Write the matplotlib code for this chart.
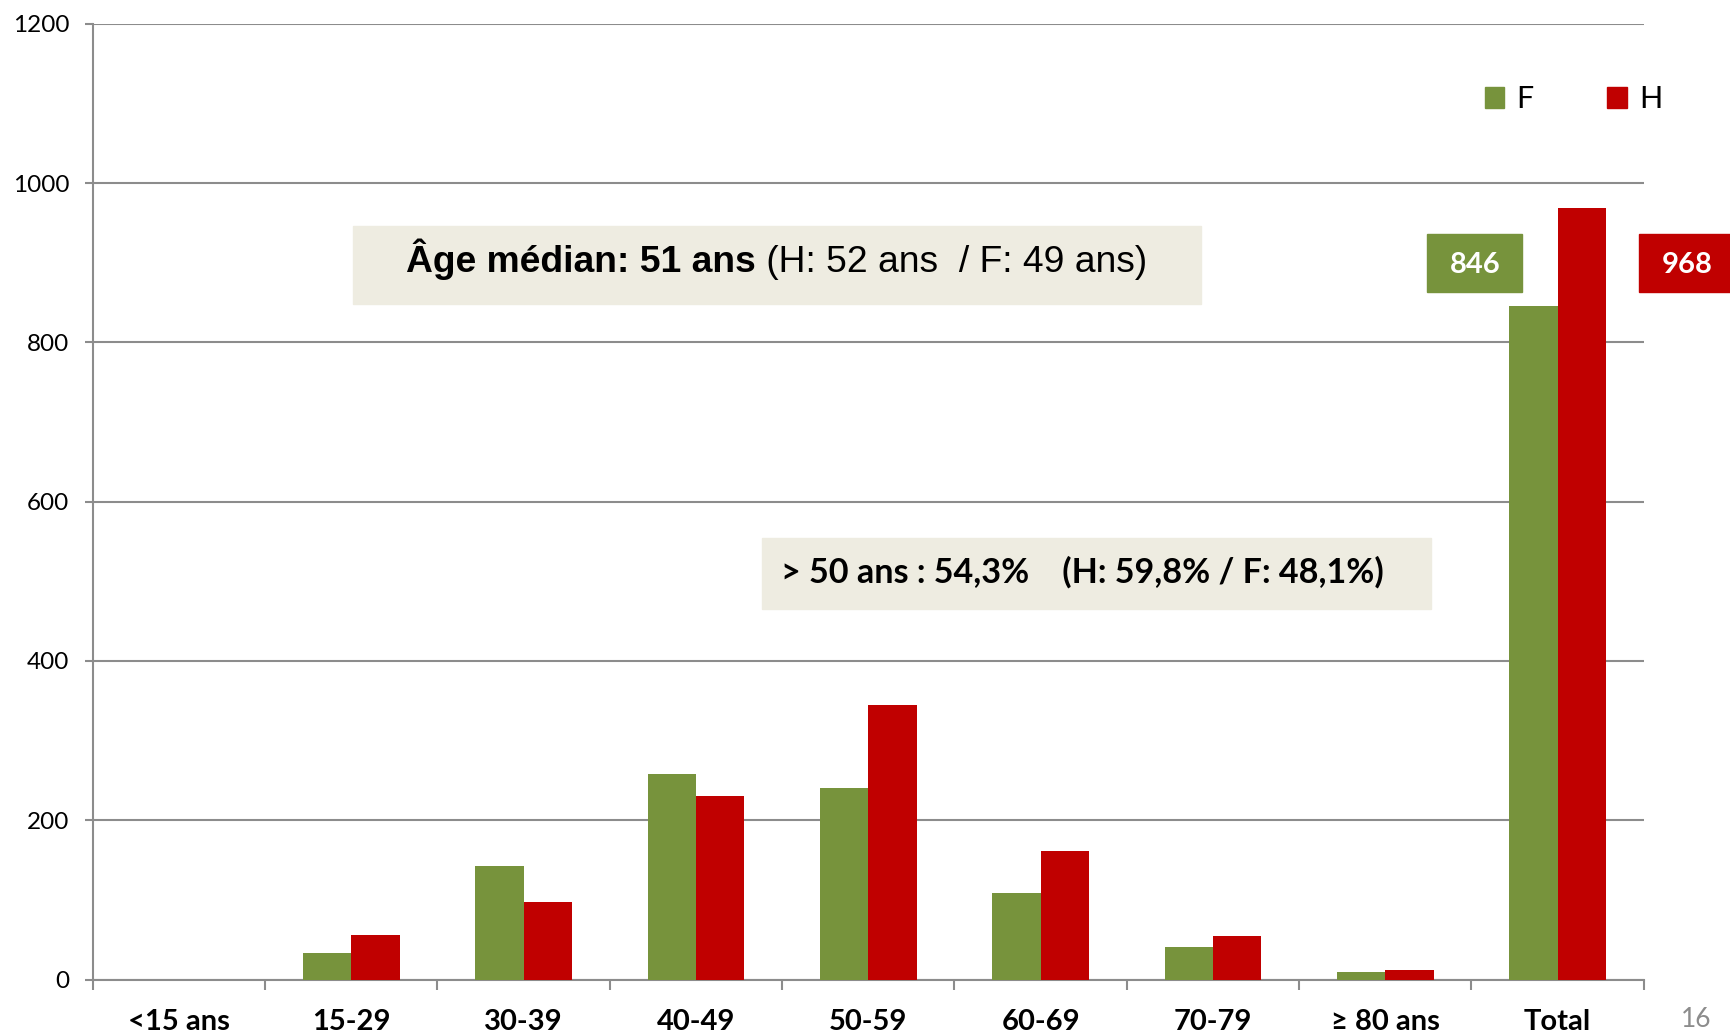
import numpy as np
import matplotlib
matplotlib.use('Agg')
import matplotlib.pyplot as plt
from matplotlib.patches import Patch, Rectangle

plt.rcParams['font.family'] = ['Lato', 'DejaVu Sans']

# data
categories = ['<15 ans', '15-29', '30-39', '40-49', '50-59', '60-69', '70-79', '≥ 80 ans', 'Total']
femmes = [0, 33, 142, 258, 241, 109, 41, 9, 846]
hommes = [0, 56, 97, 230, 345, 161, 55, 12, 968]
series_names = ['F', 'H']
yticks = [0, 200, 400, 600, 800, 1000, 1200]

box1_bold = 'Âge médian: 51 ans'
box1_rest = ' (H: 52 ans  / F: 49 ans)'
box2_text = '> 50 ans : 54,3%    (H: 59,8% / F: 48,1%)'
page_number = '16'

GREEN = '#77933C'
RED = '#C00000'
GREY = '#8C8C8C'
TAN = '#EEECE1'

fig = plt.figure(figsize=(17.31, 10.35), dpi=100)
ax = fig.add_axes([0.0536, 0.0536, 0.9496 - 0.0536, 0.9771 - 0.0536])

x = np.arange(len(categories))
w = 0.28
ax.bar(x - w / 2, femmes, w, color=GREEN, zorder=3, label=series_names[0])
ax.bar(x + w / 2, hommes, w, color=RED, zorder=3, label=series_names[1])

ax.set_xlim(-0.5, len(categories) - 0.5)
ax.set_ylim(0, 1200)
ax.set_yticks(yticks)
ax.set_yticklabels([str(v) for v in yticks], fontsize=17.5)
ax.grid(axis='y', color=GREY, linewidth=1.5, zorder=0)
ax.set_axisbelow(True)

for s in ['top', 'right']:
    ax.spines[s].set_visible(False)
for s in ['left', 'bottom']:
    ax.spines[s].set_color(GREY)
    ax.spines[s].set_linewidth(1.5)

ax.tick_params(axis='y', length=6, width=1.5, color=GREY, pad=11)
ax.set_xticks(x)
ax.set_xticklabels(categories, fontsize=21, fontweight='bold')
ax.tick_params(axis='x', which='major', length=0, pad=21)
ax.set_xticks(np.arange(len(categories) + 1) - 0.5, minor=True)
ax.tick_params(axis='x', which='minor', length=7, width=1.5, color=GREY)

# total value labels
tot = len(categories) - 1
for xc, val, col in [(tot - 0.48, femmes[tot], GREEN), (tot + 0.75, hommes[tot], RED)]:
    ax.add_patch(Rectangle((xc - 0.276, 900 - 36.5), 0.552, 73, color=col,
                           clip_on=False, zorder=4))
    ax.text(xc, 897, str(val), color='white', fontsize=21, fontweight='bold',
            ha='center', va='center', zorder=5, clip_on=False)

# legend
handles = [Patch(color=GREEN, label=series_names[0]), Patch(color=RED, label=series_names[1])]
ax.legend(handles=handles, loc='center', bbox_to_anchor=(0.909, 0.904),
          bbox_transform=fig.transFigure, ncol=2, frameon=False, fontsize=22,
          handlelength=0.65, handleheight=0.65, handletextpad=0.4, columnspacing=2.4)

# annotation boxes
fig.patches.append(Rectangle((0.2039, 0.7063), 0.6938 - 0.2039, 0.7816 - 0.7063,
                             transform=fig.transFigure, color=TAN, zorder=1))
fig.patches.append(Rectangle((0.4402, 0.4116), 0.8267 - 0.4402, 0.4802 - 0.4116,
                             transform=fig.transFigure, color=TAN, zorder=1))

renderer = fig.canvas.get_renderer()
t1 = fig.text(0.2345, 0.7372, box1_bold, family='Liberation Sans', fontweight='bold',
              fontsize=26.8, va='baseline', zorder=6)
bb = t1.get_window_extent(renderer=renderer)
fig.text(bb.x1 / fig.bbox.width, 0.7372, box1_rest, family='Liberation Sans',
         fontsize=26.8, va='baseline', zorder=6)

fig.text(0.4512, 0.4367, box2_text, fontweight='bold', fontsize=24.6, va='baseline', zorder=6)

fig.text(0.98, 0.0145, page_number, color=GREY, fontsize=19, ha='center', va='center')

fig.savefig('out.png', dpi=100)
